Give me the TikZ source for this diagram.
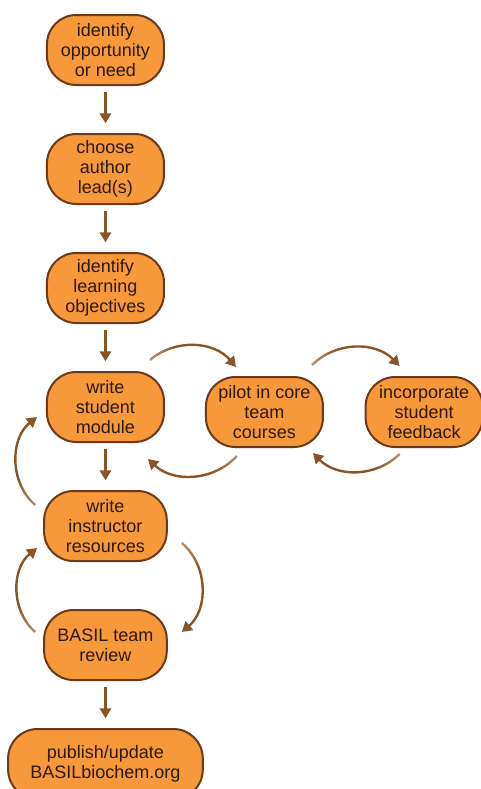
\documentclass[tikz,border=0pt]{standalone}
\usepackage{fontspec}
\setmainfont{Liberation Sans}
\usepackage{tikz}
\usetikzlibrary{calc}
\usetikzlibrary{positioning}
\usetikzlibrary{fadings}
\usetikzlibrary{arrows.meta}

\definecolor{stagefill}{HTML}{F7983A}
\definecolor{stageline}{HTML}{6B3A1A}
\definecolor{arrowbrown}{HTML}{8A5426}
\definecolor{textbrown}{HTML}{2B1A0E}

% Fadings: transparent where the arrow starts, opaque for the rest of it.
\begin{tikzfadingfrompicture}[name=fade in east]
	\shade [left color=transparent!100,right color=transparent!0] (-50bp,-50bp) rectangle (-10bp,50bp);
	\fill [transparent!0] (-10bp,-50bp) rectangle (50bp,50bp);
\end{tikzfadingfrompicture}
\begin{tikzfadingfrompicture}[name=fade in west]
	\shade [left color=transparent!0,right color=transparent!100] (10bp,-50bp) rectangle (50bp,50bp);
	\fill [transparent!0] (-50bp,-50bp) rectangle (10bp,50bp);
\end{tikzfadingfrompicture}
\begin{tikzfadingfrompicture}[name=fade in north]
	\shade [top color=transparent!0,bottom color=transparent!100] (-50bp,-50bp) rectangle (50bp,-10bp);
	\fill [transparent!0] (-50bp,-10bp) rectangle (50bp,50bp);
\end{tikzfadingfrompicture}
\begin{tikzfadingfrompicture}[name=fade in south]
	\shade [top color=transparent!100,bottom color=transparent!0] (-50bp,10bp) rectangle (50bp,50bp);
	\fill [transparent!0] (-50bp,-50bp) rectangle (50bp,10bp);
\end{tikzfadingfrompicture}

\begin{document}
\begin{tikzpicture}[node distance=36.75pt,outer sep = 0pt,inner sep = 2pt]

	\tikzstyle{every node}=[font=\fontsize{13.5}{15}\selectfont,text=textbrown]

	\tikzset{stage/.style={align=center,shape=rectangle,rounded corners=22pt,
		minimum height=52.5pt,minimum width=87.75pt,fill=stagefill,draw=stageline,line width=1.5pt}}

	\tikzset{widestage/.style={stage,minimum width=92pt}}

	\tikzset{flow/.style={-{Triangle[length=7.5pt,width=8.5pt]},line width=1.8pt,draw=arrowbrown,shorten <=5pt,shorten >=8pt}}

	\tikzset{feedback/.style={-{Triangle[length=7.5pt,width=8.5pt]},line width=1.8pt,draw=arrowbrown,bend left=45}}

	\useasboundingbox (-79.1pt,37.5pt) rectangle (280.9pt,-554.25pt);

	% Main steps, one below another.
	\node (need) [stage] {identify\\opportunity\\or need};
	\node (lead) [stage,below=of need] {choose\\author\\lead(s)};
	\node (objectives) [stage,below=of lead] {identify\\learning\\objectives};
	\node (module) [stage,below=of objectives] {write\\student\\module};
	\node (resources) [widestage,below=of module] {write\\instructor\\resources};
	\node (review) [widestage,below=of resources] {BASIL team\\review};
	\node (publish) [stage,minimum width=146pt,below=of review] {publish/update\\BASILbiochem.org};

	% Pilot loop, to the right of the student module.
	\node (pilot) [stage,right=31.5pt of module,yshift=-3.75pt] {pilot in core\\team\\courses};
	\node (studentfb) [stage,right=32pt of pilot] {incorporate\\student\\feedback};

	% Straight arrows down the main column.
	\draw [flow] (need) -- (lead);
	\draw [flow] (lead) -- (objectives);
	\draw [flow] (objectives) -- (module);
	\draw [flow] (module) -- (resources);
	\draw [flow] (review) -- (publish);

	% Curved arrows round the pilot loop.
	\draw [feedback,path fading=fade in east] ($(module.north east)+(-10.5pt,9pt)$) to ($(pilot.north west)+(22.5pt,7.5pt)$);
	\draw [feedback,path fading=fade in east] ($(pilot.north east)+(-8.25pt,9pt)$) to ($(studentfb.north west)+(25.5pt,8.25pt)$);
	\draw [feedback,path fading=fade in west] ($(studentfb.south west)+(25.5pt,-5.25pt)$) to ($(pilot.south east)+(-7.5pt,-4.5pt)$);
	\draw [feedback,path fading=fade in west] ($(pilot.south west)+(23.25pt,-6.75pt)$) to ($(module.south east)+(-12pt,-12.75pt)$);

	% Curved arrows round the review steps.
	\draw [feedback,bend left=50,path fading=fade in north] ($(resources.north west)+(-6.75pt,-10.5pt)$) to ($(module.south west)+(-7.5pt,18.75pt)$);
	\draw [feedback,bend left=50,path fading=fade in north] ($(review.north west)+(-6.75pt,-16.5pt)$) to ($(resources.south west)+(-5.25pt,9.75pt)$);
	\draw [feedback,bend left=50,path fading=fade in south] ($(resources.south east)+(11.25pt,13.5pt)$) to ($(review.north east)+(11.25pt,-16.5pt)$);
\end{tikzpicture}
\end{document}
